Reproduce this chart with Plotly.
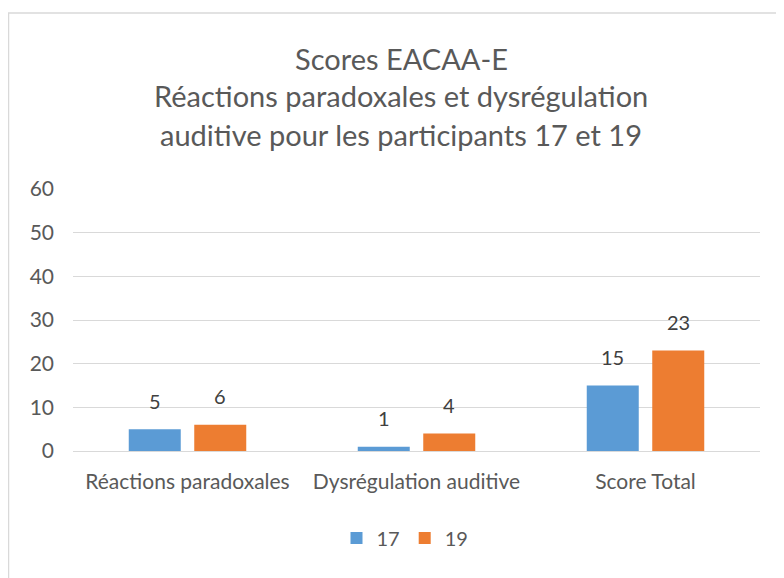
import plotly.graph_objects as go

categories = ["Réactions paradoxales", "Dysrégulation auditive", "Score Total"]
series_names = ["17", "19"]
values_17 = [5, 1, 15]
values_19 = [6, 4, 23]
y_ticks = [0, 10, 20, 30, 40, 50, 60]
title_lines = ["Scores EACAA-E", "Réactions paradoxales et dysrégulation", "auditive pour les participants 17 et 19"]

FONT = "Lato"
GRAY = "#595959"
COLORS = ["#5B9BD5", "#ED7D31"]

# page body has an 8px margin; figure coordinates = page coordinates - 8
OFF = 8
W, H = 776, 570
L, R, T, B = 65, 24, 181, 127
pw, ph = W - L - R, H - T - B

def px_x(x):
    return (x - OFF - L) / pw

def px_y(y):
    return (H - B - (y - OFF)) / ph

fig = go.Figure()
for name, vals, col in [(series_names[0], values_17, COLORS[0]), (series_names[1], values_19, COLORS[1])]:
    fig.add_trace(go.Bar(
        x=categories, y=vals, name=name, marker=dict(color=col, line=dict(width=0)),
    ))

annotations = []
for i, line in enumerate(title_lines):
    annotations.append(dict(
        text=line, x=px_x(401), y=px_y(58 + 38 * i), xref="paper", yref="paper",
        xanchor="center", yanchor="middle", showarrow=False,
        font=dict(family=FONT, size=29, color=GRAY),
    ))

# data labels above each bar
bar_offset = 32.75
for shift, vals in [(-bar_offset, values_17), (bar_offset, values_19)]:
    for c, v in zip(categories, vals):
        annotations.append(dict(
            text=str(v), x=c, y=v, xref="x", yref="y", xshift=shift, yshift=28.5,
            xanchor="center", yanchor="middle", showarrow=False,
            font=dict(family=FONT, size=20, color="#404040"),
        ))

fig.update_layout(
    width=W, height=H,
    margin=dict(l=L, r=R, t=T, b=B),
    paper_bgcolor="white", plot_bgcolor="white",
    barmode="group", bargap=0.428, bargroupgap=0.206,
    showlegend=True,
    legend=dict(orientation="h", x=px_x(405), y=px_y(538), xanchor="center", yanchor="middle",
                font=dict(family=FONT, size=20, color=GRAY), itemwidth=30, traceorder="normal",
                tracegroupgap=0),
    annotations=annotations,
    font=dict(family=FONT, color=GRAY),
    shapes=[dict(type="rect", xref="paper", yref="paper",
                 x0=px_x(8.5), x1=px_x(820), y0=px_y(620), y1=px_y(13),
                 line=dict(color="#D9D9D9", width=1.5), fillcolor="rgba(0,0,0,0)", layer="below")],
)
fig.update_yaxes(range=[0, 60], tickvals=y_ticks, showgrid=True, gridcolor="#D9D9D9", gridwidth=1,
                 zeroline=True, zerolinecolor="#D9D9D9", zerolinewidth=1,
                 tickfont=dict(family=FONT, size=21, color=GRAY), ticks="", ticklen=0,
                 ticklabelstandoff=18, showline=False, fixedrange=True)
fig.update_xaxes(tickfont=dict(family=FONT, size=21, color=GRAY), showline=True, linecolor="#D9D9D9",
                 ticks="", ticklabelstandoff=12, fixedrange=True)

fig.write_html("out.html")
